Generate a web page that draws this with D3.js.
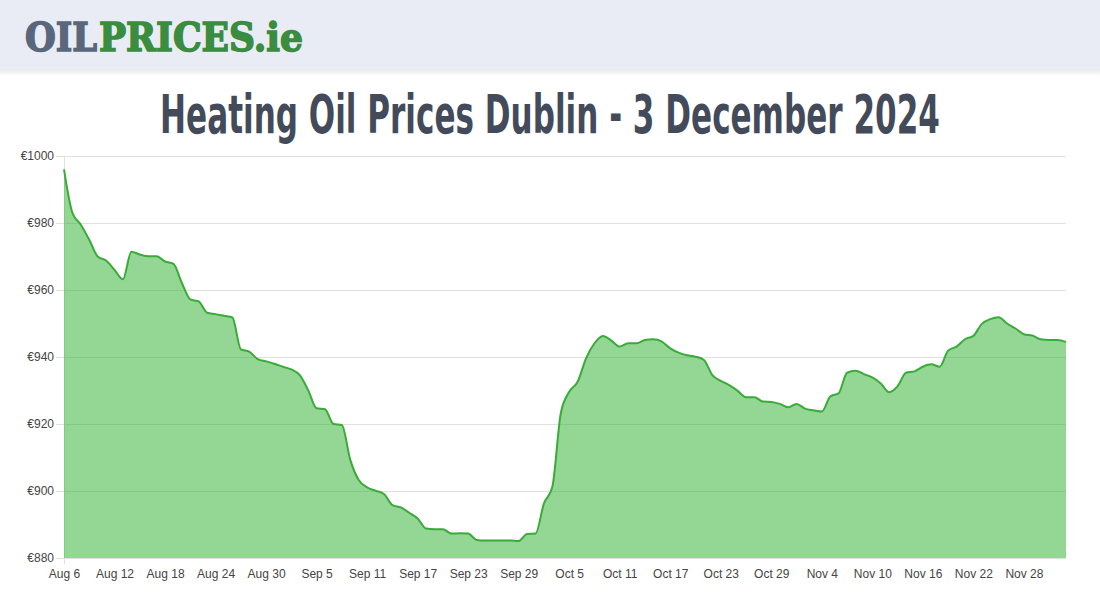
<!DOCTYPE html>
<html>
<head>
<meta charset="utf-8">
<script src="https://cdn.jsdelivr.net/npm/d3@7"></script>
<style>
  html, body { margin: 0; padding: 0; background: #fff; }
  svg { display: block; }
</style>
</head>
<body>
<svg id="chart" width="1100" height="600"></svg>
<script>
const titleText = "Heating Oil Prices Dublin - 3 December 2024";
const startDate = "2024-08-06";
const prices = [
  996, 983, 979.5, 975, 970, 968.8, 966, 963.2, 971.4, 970.6, 970.1, 970.1, 968.5, 967.8,
  962.1, 957.2, 956.6, 953.2, 952.8, 952.3, 951.8, 942.3, 941.6, 939.4, 938.7, 938.0,
  937.1, 936.3, 934.6, 930.1, 924.7, 924.4, 920.0, 919.7, 909.3, 903.3, 901.1, 900.1,
  899.1, 895.8, 895.1, 893.5, 891.8, 888.8, 888.6, 888.6, 887.3, 887.4, 887.3, 885.4,
  885.2, 885.2, 885.2, 885.2, 885.1, 887.2,
  887.3, 896.3, 901.3, 923.2, 929.6, 932.6, 939.6, 944.1, 946.3, 944.9, 943.1, 944.1,
  944.1, 945.1, 945.3, 944.6, 942.6, 941.3, 940.5, 940.1, 939.1, 934.6, 932.9, 931.6,
  929.9, 928.0, 928.0, 926.7, 926.6, 926.0, 925.0,
  926.0, 924.6, 924.1, 923.7, 928.2, 929.2, 935.3, 935.9, 934.9, 933.9, 932.1, 929.5,
  931.3, 935.3, 935.7, 937.1, 937.8, 937.1, 941.9, 943.1, 945.3, 946.3, 949.9, 951.3,
  951.9, 950.0, 948.5, 946.8, 946.4, 945.3,
  945.1, 945.1, 944.5
];
const yTicks = [880, 900, 920, 940, 960, 980, 1000];
const xTickLabels = ["Aug 6","Aug 12","Aug 18","Aug 24","Aug 30","Sep 5","Sep 11","Sep 17","Sep 23","Sep 29","Oct 5","Oct 11","Oct 17","Oct 23","Oct 29","Nov 4","Nov 10","Nov 16","Nov 22","Nov 28"];

const parse = d3.utcParse("%Y-%m-%d");
const t0 = parse(startDate);
const data = prices.map((v, i) => ({ date: d3.utcDay.offset(t0, i), value: v }));

const svg = d3.select("#chart");

// Header band
const defs = svg.append("defs");
const grad = defs.append("linearGradient").attr("id", "shadow").attr("x1", 0).attr("x2", 0).attr("y1", 0).attr("y2", 1);
grad.append("stop").attr("offset", "0%").attr("stop-color", "#000").attr("stop-opacity", 0.08);
grad.append("stop").attr("offset", "100%").attr("stop-color", "#000").attr("stop-opacity", 0);
svg.append("rect").attr("x", 0).attr("y", 70).attr("width", 1100).attr("height", 6).attr("fill", "url(#shadow)");
svg.append("rect").attr("x", 0).attr("y", 0).attr("width", 1100).attr("height", 70).attr("fill", "#e9ecf4");

svg.append("text").attr("x", 25).attr("y", 51)
  .attr("font-family", "'DejaVu Serif', serif").attr("font-weight", "bold").attr("font-size", 40)
  .attr("fill", "#5a667c").attr("stroke", "#5a667c").attr("stroke-width", 1.6)
  .attr("textLength", 72).attr("lengthAdjust", "spacingAndGlyphs")
  .text("OIL");
svg.append("text").attr("x", 99).attr("y", 51)
  .attr("font-family", "'DejaVu Serif', serif").attr("font-weight", "bold").attr("font-size", 40)
  .attr("fill", "#3a8c3f").attr("stroke", "#3a8c3f").attr("stroke-width", 1.6)
  .attr("textLength", 204).attr("lengthAdjust", "spacingAndGlyphs")
  .text("PRICES.ie");

// Title (condensed by horizontal scale to fit 780px)
const title = svg.append("text").attr("x", 0).attr("y", 0).attr("text-anchor", "middle")
  .attr("font-family", "'Liberation Sans Narrow', 'DejaVu Sans Condensed', sans-serif")
  .attr("font-weight", "bold").attr("font-size", 54)
  .attr("fill", "#434b5b")
  .text(titleText);
const natural = title.node().getComputedTextLength();
title.attr("transform", `translate(550,133) scale(${780 / natural},1)`);

// Scales
const x = d3.scaleUtc().domain([data[0].date, data[data.length - 1].date]).range([64, 1066]);
const y = d3.scaleLinear().domain([880, 1000]).range([558, 156]);

// Grid
const grid = svg.append("g");
grid.selectAll("line").data(yTicks).join("line")
  .attr("x1", 56).attr("x2", 1066)
  .attr("y1", d => Math.round(y(d)) + 0.5).attr("y2", d => Math.round(y(d)) + 0.5)
  .attr("stroke", "#e0e0e0").attr("stroke-width", 1);
grid.append("line").attr("x1", 64.5).attr("x2", 64.5).attr("y1", 156).attr("y2", 564)
  .attr("stroke", "#e0e0e0");

// Area + line
const curve = d3.curveMonotoneX;
const area = d3.area().x(d => x(d.date)).y0(y(880)).y1(d => y(d.value)).curve(curve);
const line = d3.line().x(d => x(d.date)).y(d => y(d.value)).curve(curve);
svg.append("path").datum(data).attr("d", area).attr("fill", "rgb(60,180,60)").attr("fill-opacity", 0.55);
svg.append("path").datum(data).attr("d", line).attr("fill", "none").attr("stroke", "#38ab38").attr("stroke-width", 2);

// Y axis labels
const yAxis = d3.axisLeft(y).tickValues(yTicks).tickSize(0).tickPadding(10).tickFormat(d => "€" + d);
const yg = svg.append("g").attr("transform", "translate(64,0)").call(yAxis);
yg.select(".domain").remove();
yg.selectAll("text").attr("font-family", "'Liberation Sans', Arial, sans-serif").attr("font-size", 12).attr("fill", "#444");

// X axis labels
const xTickDates = xTickLabels.map((_, i) => d3.utcDay.offset(t0, i * 6));
const xAxis = d3.axisBottom(x).tickValues(xTickDates).tickSize(0).tickPadding(11)
  .tickFormat((d, i) => xTickLabels[i]);
const xg = svg.append("g").attr("transform", "translate(0,558)").call(xAxis);
xg.select(".domain").remove();
xg.selectAll("text").attr("font-family", "'Liberation Sans', Arial, sans-serif").attr("font-size", 12).attr("fill", "#444");
</script>
</body>
</html>
